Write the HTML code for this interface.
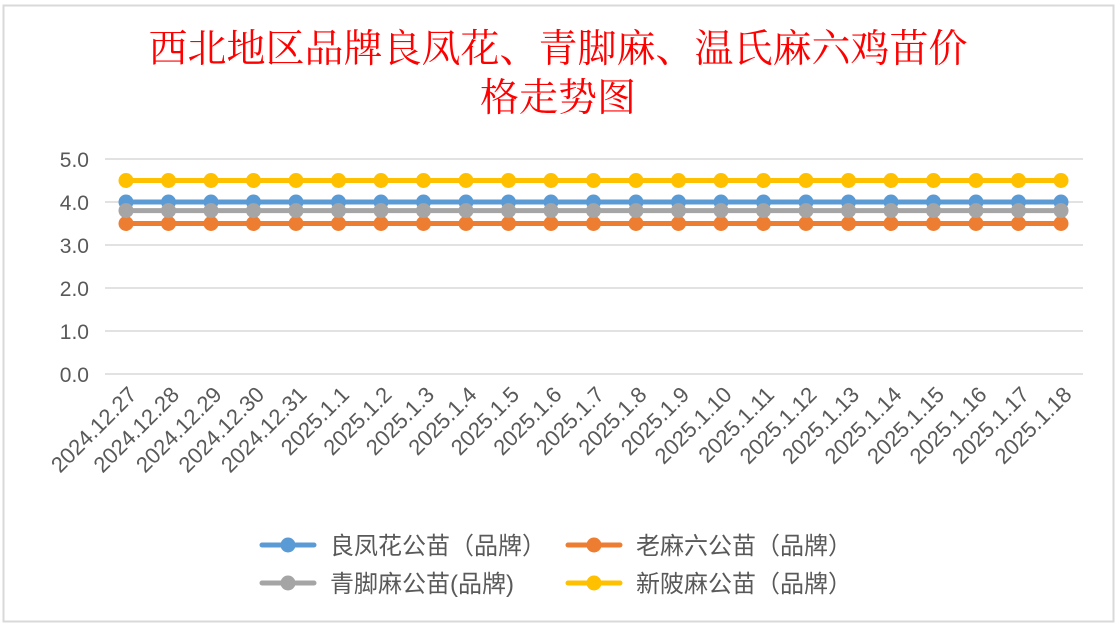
<!DOCTYPE html>
<html><head><meta charset="utf-8"><style>
body{margin:0;background:#fff;width:1120px;height:628px;overflow:hidden}
svg{display:block}
</style></head><body>
<svg id="c" width="1120" height="628" xmlns="http://www.w3.org/2000/svg">
<rect x="0" y="0" width="1120" height="628" fill="#fff"/>
<rect x="3.5" y="5.5" width="1110" height="616" fill="#fff" stroke="#d9d9d9" stroke-width="2"/>
<text x="558" y="62" text-anchor="middle" font-family="'Noto Serif CJK SC','Liberation Serif',serif" font-size="39" fill="#ff0000">西北地区品牌良凤花、青脚麻、温氏麻六鸡苗价</text>
<text x="558" y="111" text-anchor="middle" font-family="'Noto Serif CJK SC','Liberation Serif',serif" font-size="39" fill="#ff0000">格走势图</text>
<g id="grid"></g><g id="ylab"></g><g id="xlab"></g><g id="series"></g>
<g id="legend" font-family="'Liberation Sans','Noto Sans CJK SC',sans-serif" font-size="24" fill="#595959"></g>
</svg>
<script>
const categories=["2024.12.27","2024.12.28","2024.12.29","2024.12.30","2024.12.31","2025.1.1","2025.1.2","2025.1.3","2025.1.4","2025.1.5","2025.1.6","2025.1.7","2025.1.8","2025.1.9","2025.1.10","2025.1.11","2025.1.12","2025.1.13","2025.1.14","2025.1.15","2025.1.16","2025.1.17","2025.1.18"];
const liangfenghua=[4,4,4,4,4,4,4,4,4,4,4,4,4,4,4,4,4,4,4,4,4,4,4];
const laomaliu=[3.5,3.5,3.5,3.5,3.5,3.5,3.5,3.5,3.5,3.5,3.5,3.5,3.5,3.5,3.5,3.5,3.5,3.5,3.5,3.5,3.5,3.5,3.5];
const qingjiaoma=[3.8,3.8,3.8,3.8,3.8,3.8,3.8,3.8,3.8,3.8,3.8,3.8,3.8,3.8,3.8,3.8,3.8,3.8,3.8,3.8,3.8,3.8,3.8];
const xinpima=[4.5,4.5,4.5,4.5,4.5,4.5,4.5,4.5,4.5,4.5,4.5,4.5,4.5,4.5,4.5,4.5,4.5,4.5,4.5,4.5,4.5,4.5,4.5];
const yTicks=[0,1,2,3,4,5];
const seriesNames=["良凤花公苗（品牌）","老麻六公苗（品牌）","青脚麻公苗(品牌)","新陂麻公苗（品牌）"];
const NS="http://www.w3.org/2000/svg";
const x0=126,x1=1061,yB=374,yT=159;
const xs=i=>x0+(x1-x0)*i/(categories.length-1);
const ys=v=>yB-(yB-yT)*v/5;
function mk(t,a,p){const e=document.createElementNS(NS,t);for(const k in a)e.setAttribute(k,a[k]);p.appendChild(e);return e;}
const g=document.getElementById('grid'),yl=document.getElementById('ylab'),xl=document.getElementById('xlab');
yTicks.forEach(v=>{
 const l=mk('line',{x1:105,x2:1083,y1:ys(v),y2:ys(v),stroke:'#d9d9d9','stroke-width':1.5},g);
 
 
 const t=mk('text',{x:89,y:ys(v)+8,'text-anchor':'end','font-family':"'Liberation Sans',sans-serif",'font-size':21,fill:'#595959'},yl);
 t.textContent=v.toFixed(1);
 
 
});
categories.forEach((c,i)=>{
 const x=xs(i)+12,y=396;
 const t=mk('text',{x:x,y:y,'text-anchor':'end',transform:`rotate(-45 ${x} ${y})`,'font-family':"'Liberation Sans',sans-serif",'font-size':22,fill:'#595959'},xl);
 t.textContent=c;
 
 
});
const all=[[liangfenghua,'#5b9bd5'],[laomaliu,'#ed7d31'],[qingjiaoma,'#a5a5a5'],[xinpima,'#ffc000']];
const order=[1,0,2,3];
const sg=document.getElementById('series');
order.forEach(k=>{
 const [d,col]=all[k];
 const gg=mk('g',{},sg);
 
 
 mk('polyline',{points:d.map((v,i)=>xs(i)+','+ys(v)).join(' '),fill:'none',stroke:col,'stroke-width':5},gg);
 d.forEach((v,i)=>{
  const c=mk('circle',{cx:xs(i),cy:ys(v),r:7.5,fill:col},gg);
  
  
 });
});
const lg=document.getElementById('legend');
const pos=[[262,545],[568,545],[262,583],[568,583]];
all.forEach(([d,col],k)=>{
 const [x,y]=pos[k];
 const e=mk('g',{},lg);
 
 
 mk('line',{x1:x,x2:x+52,y1:y,y2:y,stroke:col,'stroke-width':5,'stroke-linecap':'round'},e);
 mk('circle',{cx:x+26,cy:y,r:7.5,fill:col},e);
 const t=mk('text',{x:x+68,y:y+9},e);
 t.textContent=seriesNames[k];
});
</script>
</body></html>
